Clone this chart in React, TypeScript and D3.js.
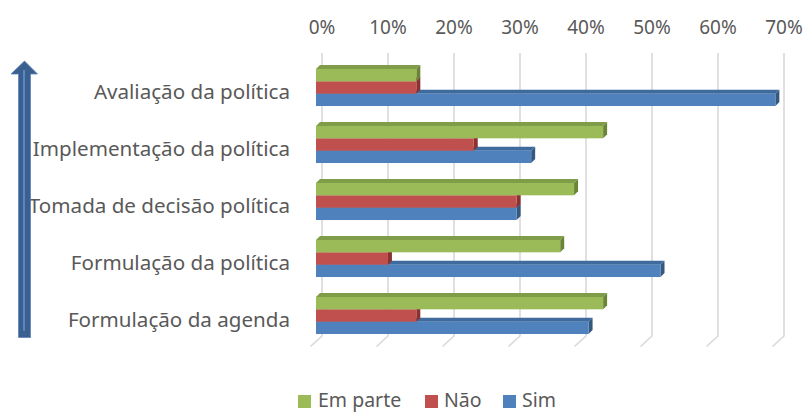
import React from "react";
import * as d3 from "d3";

const categories = [
  "Avaliação da política",
  "Implementação da política",
  "Tomada de decisão política",
  "Formulação da política",
  "Formulação da agenda",
];
const seriesNames = ["Em parte", "Não", "Sim"];
const emParte = [15.2, 43.5, 39.1, 37.0, 43.5];
const nao = [15.2, 23.9, 30.4, 10.9, 15.2];
const sim = [69.6, 32.6, 30.4, 52.2, 41.3];
const tickValues = [0, 10, 20, 30, 40, 50, 60, 70];

const seriesValues = [emParte, nao, sim];
const frontColors = ["#9BBB59", "#C0504D", "#4F81BD"];
const topColors = ["#7F9C48", "#A0423F", "#3F6A9E"];
const sideColors = ["#6A8535", "#8B3230", "#35587F"];

const W = 806;
const H = 412;
const DEPTH = 4;
const BACK_DX = 6;
const FONT = "'Noto Sans', 'Open Sans', sans-serif";
const TEXT_COLOR = "#595959";

export default function App() {
  const x = d3.scaleLinear().domain([0, 70]).range([316, 778]);
  const y = d3
    .scaleBand<string>()
    .domain(categories)
    .range([59, 344])
    .paddingInner(0.35)
    .paddingOuter(0.175);
  const sub = d3
    .scaleBand<number>()
    .domain([0, 1, 2])
    .range([0, y.bandwidth()]);

  const gridTop = 53;
  const gridBottom = 336;

  const bars: React.ReactNode[] = [];
  categories.forEach((cat, ci) => {
    const gy = y(cat) as number;
    // draw bottom series first so upper bars overlay lower top faces
    [2, 1, 0].forEach((si) => {
      const v = seriesValues[si][ci];
      const yt = gy + (sub(si) as number);
      const yb = yt + sub.bandwidth();
      const x0 = x(0);
      const x1 = x(v);
      const d = DEPTH;
      bars.push(
        <g key={`${ci}-${si}`}>
          <polygon
            points={`${x0},${yt} ${x0 + d},${yt - d} ${x1 + d},${yt - d} ${x1},${yt}`}
            fill={topColors[si]}
          />
          <polygon
            points={`${x1},${yt} ${x1 + d},${yt - d} ${x1 + d},${yb - d} ${x1},${yb}`}
            fill={sideColors[si]}
          />
          <rect x={x0} y={yt} width={x1 - x0} height={yb - yt} fill={frontColors[si]} />
        </g>
      );
    });
  });

  const legendItems = [
    { sq: 298, tx: 318 },
    { sq: 425, tx: 444 },
    { sq: 503, tx: 522 },
  ];

  return (
    <svg
      width={W}
      height={H}
      style={{ position: "absolute", left: 0, top: 0, background: "#fff" }}
      fontFamily={FONT}
    >
      <rect width={W} height={H} fill="#fff" />
      {/* gridlines on back wall with floor edge */}
      {tickValues.map((t) => {
        const gx = x(t) + BACK_DX;
        return (
          <path
            key={`g${t}`}
            d={`M${gx},${gridTop} L${gx},${gridBottom} L${gx - 11.5},${gridBottom + 10.5}`}
            fill="none"
            stroke="#D9D9D9"
            strokeWidth={1.6}
          />
        );
      })}
      {/* tick labels */}
      {tickValues.map((t) => (
        <text
          key={`t${t}`}
          x={x(t) + BACK_DX}
          y={34}
          textAnchor="middle"
          fontSize={19}
          fill={TEXT_COLOR}
        >
          {`${t}%`}
        </text>
      ))}
      {bars}
      {/* category labels */}
      {categories.map((c) => (
        <text
          key={c}
          x={290}
          y={(y(c) as number) + y.bandwidth() / 2 + 11.5}
          textAnchor="end"
          fontSize={20.6}
          fill={TEXT_COLOR}
        >
          {c}
        </text>
      ))}
      {/* arrow */}
      <path
        d="M18.5,337.5 L18.5,74 L11,74 L24.5,61 L37.5,74 L30.5,74 L30.5,337.5 Z"
        fill="#3B5F8F"
        stroke="#5B84B8"
        strokeWidth={0.8}
      />
      <line x1={24} y1={70} x2={24} y2={331} stroke="#5A87C0" strokeWidth={2} />
      {/* legend */}
      {seriesNames.map((s, i) => (
        <g key={s}>
          <rect x={legendItems[i].sq} y={395} width={13} height={13} fill={frontColors[i]} />
          <text x={legendItems[i].tx} y={406.5} fontSize={19.5} fill={TEXT_COLOR}>
            {s}
          </text>
        </g>
      ))}
    </svg>
  );
}
